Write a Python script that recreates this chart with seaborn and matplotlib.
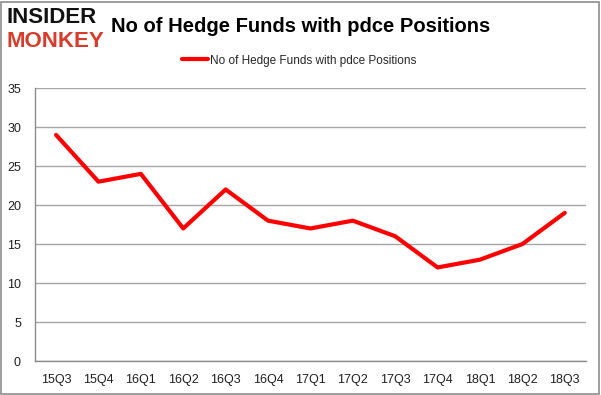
import numpy as np
import pandas as pd
import seaborn as sns
import matplotlib.pyplot as plt
from matplotlib.patches import Rectangle

quarters = ["15Q3", "15Q4", "16Q1", "16Q2", "16Q3", "16Q4", "17Q1",
            "17Q2", "17Q3", "17Q4", "18Q1", "18Q2", "18Q3"]
funds = [29, 23, 24, 17, 22, 18, 17, 18, 16, 12, 13, 15, 19]
series_name = "No of Hedge Funds with pdce Positions"

df = pd.DataFrame({"quarter": quarters, "funds": funds})
df["pos"] = np.arange(len(quarters))

sns.set_style("white")
plt.rcParams['font.family'] = ['Liberation Sans', 'DejaVu Sans']

fig = plt.figure(figsize=(6.01, 3.95), dpi=100)
ax = fig.add_axes([0.058, 0.086, 0.917, 0.691])

sns.lineplot(data=df, x="pos", y="funds", color="#ff0000", linewidth=3,
             ax=ax, label=series_name)

ax.set_xlim(-0.5, len(quarters) - 0.5)
ax.set_ylim(0, 35)
ax.set_yticks(range(0, 36, 5))
ax.yaxis.grid(True, color="#a6a6a6", linewidth=1)
ax.set_axisbelow(True)
ax.set_xticks(df["pos"])
ax.set_xticklabels(quarters, fontsize=9, color="#1f1f1f")
ax.set_xticks(np.arange(-0.5, len(quarters)), minor=True)
ax.tick_params(axis="x", which="major", length=0, pad=9)
ax.tick_params(axis="x", which="minor", length=5, color="#8c8c8c", width=1)
ax.tick_params(axis="y", length=5, color="#8c8c8c", labelsize=9,
               labelcolor="#1f1f1f", pad=5)
ax.set_xlabel("")
ax.set_ylabel("")
for s in ["top", "right"]:
    ax.spines[s].set_visible(False)
for s in ["left", "bottom"]:
    ax.spines[s].set_color("#8c8c8c")
    ax.spines[s].set_linewidth(1)

leg = ax.legend(loc="lower center", bbox_to_anchor=(0.48, 1.04), frameon=False,
                fontsize=8.5, handlelength=2.2, handletextpad=0.2)

fig.text(0.5, 0.932, "No of Hedge Funds with pdce Positions", ha="center",
         va="center", fontsize=14.5, fontweight="bold", color="#000000")
fig.text(0.01, 0.955, "INSIDER", fontsize=16, fontweight="heavy",
         color="#111111", va="center", ha="left")
fig.text(0.01, 0.895, "MONKEY", fontsize=16, fontweight="heavy",
         color="#d63b2b", va="center", ha="left")

fig.patches.append(Rectangle((0.002, 0.003), 0.995, 0.993, transform=fig.transFigure,
                             fill=False, edgecolor="#8c8c8c", linewidth=1.2))

fig.savefig("out.png", dpi=100)
